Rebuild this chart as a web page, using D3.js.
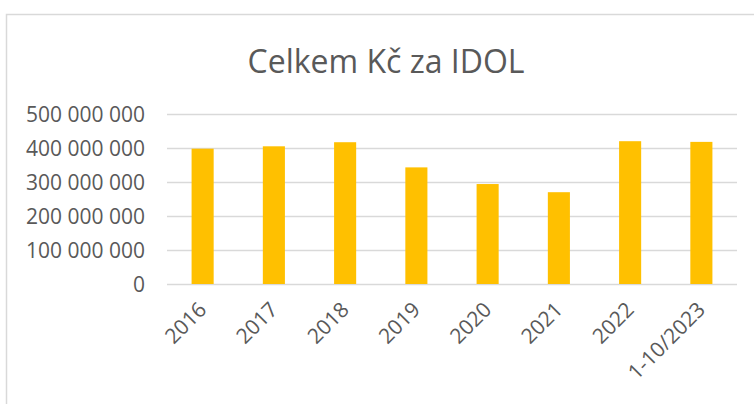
<!DOCTYPE html>
<html>

<head>
    <meta charset="utf-8">
    <title>Celkem Kč za IDOL</title>
    <script src="https://d3js.org/d3.v7.min.js"></script>
    <style>
        body { margin: 0; background: #fff; }
        text { font-family: "Open Sans", sans-serif; fill: #595959; }
    </style>
</head>

<body>
</body>

<script>

    // data
    let years = ["2016", "2017", "2018", "2019", "2020", "2021", "2022", "1-10/2023"];
    let totals = [398e6, 405e6, 417e6, 343e6, 294e6, 270e6, 420e6, 418e6];
    let yTicks = [0, 1e8, 2e8, 3e8, 4e8, 5e8];

    let width = 754,
        height = 404;

    let plot = { left: 167, right: 737, top: 114, bottom: 284 };

    let svg = d3.select("body")
        .append("svg")
            .attr("width", width)
            .attr("height", height);

    // chart frame (only top and left edges fall inside the picture)
    svg.append("path")
        .attr("d", "M6.5," + height + "V14.5H" + width)
        .attr("fill", "none")
        .attr("stroke", "#d9d9d9")
        .attr("stroke-width", 1.5);

    svg.append("text")
        .attr("x", 386)
        .attr("y", 73)
        .attr("text-anchor", "middle")
        .style("font-size", "32px")
        .text("Celkem Kč za IDOL");

    let x = d3.scaleBand()
        .domain(years)
        .range([plot.left, plot.right])
        .paddingInner(0.69)
        .paddingOuter(0.345);

    let y = d3.scaleLinear()
        .domain([0, 5e8])
        .range([plot.bottom, plot.top]);

    let fmt = v => d3.format(",")(v).replace(/,/g, " ");

    // grid + y labels
    let yAxis = svg.append("g")
        .attr("transform", "translate(" + plot.left + ",0)")
        .call(d3.axisLeft(y)
            .tickValues(yTicks)
            .tickFormat(fmt)
            .tickSize(-(plot.right - plot.left))
            .tickPadding(22));
    yAxis.select(".domain").remove();
    yAxis.selectAll(".tick line")
        .attr("stroke", "#d9d9d9")
        .attr("stroke-width", 1.5);
    yAxis.selectAll(".tick text")
        .attr("dy", "0.36em")
        .style("font-size", "21px")
        .style("font-family", "Open Sans, sans-serif")
        .attr("fill", "#595959");

    svg.append("g")
        .selectAll("rect")
        .data(totals)
        .join("rect")
            .attr("x", (d, i) => x(years[i]))
            .attr("y", d => y(d))
            .attr("width", x.bandwidth())
            .attr("height", d => y(0) - y(d))
            .attr("fill", "#ffc000");

    // rotated category labels
    svg.append("g")
        .selectAll("text")
        .data(years)
        .join("text")
            .attr("transform", d => "translate(" + (x(d) + x.bandwidth() / 2 + 5) + "," + (plot.bottom + 27) + ") rotate(-45)")
            .attr("text-anchor", "end")
            .style("font-size", "21px")
            .text(d => d);

</script>

</html>
